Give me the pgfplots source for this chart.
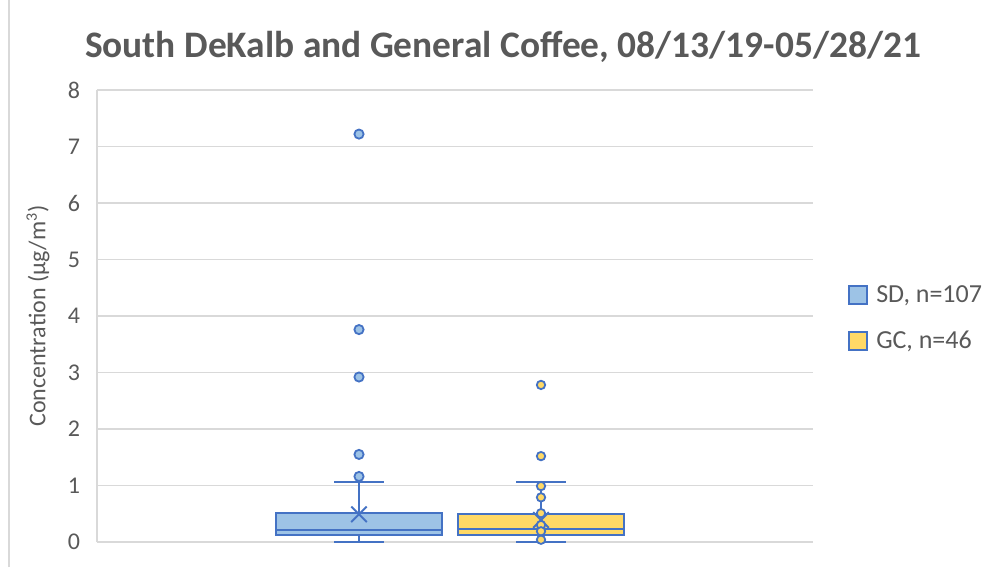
\documentclass[border=0pt]{standalone}
\usepackage{pgfplots}
\pgfplotsset{compat=1.18}
\usepackage{fontspec}
\setmainfont{Carlito}
\definecolor{sdfill}{HTML}{9DC3E6}
\definecolor{gcfill}{HTML}{FFD966}
\definecolor{edge}{HTML}{4472C4}
\definecolor{txt}{HTML}{595959}
\definecolor{gridc}{HTML}{D9D9D9}

% quartiles and whiskers of each series
\pgfplotstableread{
pos  lw    q1    med   q3    uw    mean
262  0.00  0.13  0.22  0.52  1.07  0.49
444  0.00  0.13  0.23  0.50  1.07  0.39
}\stats

\begin{document}
\begin{tikzpicture}
\path[use as bounding box] (-48.5pt,-12.5pt) rectangle (448.5pt,271pt);
\begin{axis}[
  at={(0pt,0pt)}, anchor=south west,
  width=358pt, height=226pt, scale only axis,
  xmin=0, xmax=716, ymin=0, ymax=8,
  ytick={0,...,8}, xtick=\empty,
  ymajorgrids, grid style={gridc, line width=0.7pt},
  axis lines*=left, axis line style={gridc, line width=0.7pt},
  major tick length=0pt,
  /pgf/number format/assume math mode=true,
  yticklabel style={font=\fontsize{12}{13}\selectfont, color=txt, anchor=east, xshift=-5pt},
  every axis y label/.style={at={(axis description cs:-0.0824,0.5)}, rotate=90, anchor=center,
    font=\fontsize{12}{14}\selectfont, color=txt},
  ylabel={Concentration (µg/m\textsuperscript{3})},
  clip=false,
  legend style={at={(axis description cs:1.049,0.578)}, anchor=north west, draw=none, fill=none,
    font=\fontsize{13}{14}\selectfont, text=txt, row sep=9pt, inner sep=0pt,
    nodes={inner sep=2pt}},
  legend cell align=left,
  legend image code/.code={\draw[#1] (0pt,-4.5pt) rectangle (9pt,4.5pt);\path (11pt,0pt);},
]
\addlegendimage{draw=edge, fill=sdfill, line width=0.9pt}
\addlegendentry{SD, n=107}
\addlegendimage{draw=edge, fill=gcfill, line width=0.9pt}
\addlegendentry{GC, n=46}

% ---- South DeKalb ----
\addplot[draw=edge, line width=1pt, forget plot] coordinates {(262,0.52) (262,1.07)};
\addplot[draw=edge, line width=1pt, forget plot] coordinates {(237,1.07) (287,1.07)};
\addplot[draw=edge, line width=1pt, forget plot] coordinates {(262,0.13) (262,0.00)};
\addplot[draw=edge, line width=1pt, forget plot] coordinates {(237,0.00) (287,0.00)};
\addplot[draw=edge, fill=sdfill, line width=1pt, forget plot]
  coordinates {(179,0.13) (345,0.13) (345,0.52) (179,0.52)} -- cycle;
\addplot[draw=edge, line width=1pt, forget plot] coordinates {(179,0.22) (345,0.22)};
\addplot[only marks, mark=x, mark size=5.5pt, draw=edge, line width=1pt, forget plot]
  coordinates {(262,0.49)};
\addplot[only marks, mark=*, mark size=2.3pt, mark options={fill=sdfill, draw=edge, line width=0.9pt}, forget plot]
  coordinates {(262,7.22) (262,3.76) (262,2.92) (262,1.55) (262,1.16)};

% ---- General Coffee ----
\addplot[draw=edge, line width=1pt, forget plot] coordinates {(444,0.50) (444,1.07)};
\addplot[draw=edge, line width=1pt, forget plot] coordinates {(419,1.07) (469,1.07)};
\addplot[draw=edge, line width=1pt, forget plot] coordinates {(444,0.13) (444,0.00)};
\addplot[draw=edge, line width=1pt, forget plot] coordinates {(419,0.00) (469,0.00)};
\addplot[draw=edge, fill=gcfill, line width=1pt, forget plot]
  coordinates {(361,0.13) (527,0.13) (527,0.50) (361,0.50)} -- cycle;
\addplot[draw=edge, line width=1pt, forget plot] coordinates {(361,0.23) (527,0.23)};
\addplot[only marks, mark=x, mark size=5.5pt, draw=edge, line width=1pt, forget plot]
  coordinates {(444,0.39)};
\addplot[only marks, mark=*, mark size=2.1pt, mark options={fill=gcfill, draw=edge, line width=0.9pt}, forget plot]
  coordinates {(444,2.78) (444,1.52) (444,0.99) (444,0.79) (444,0.51) (444,0.30) (444,0.19) (444,0.04)};

\node[font=\bfseries\fontsize{18.7}{22}\selectfont, text=txt] at (rel axis cs:0.567,1) [yshift=21.5pt] {South DeKalb and General Coffee, 08/13/19-05/28/21};
\end{axis}
\draw[gridc, line width=0.7pt] (-44pt,-12.5pt) -- (-44pt,271pt);
\end{tikzpicture}
\end{document}
